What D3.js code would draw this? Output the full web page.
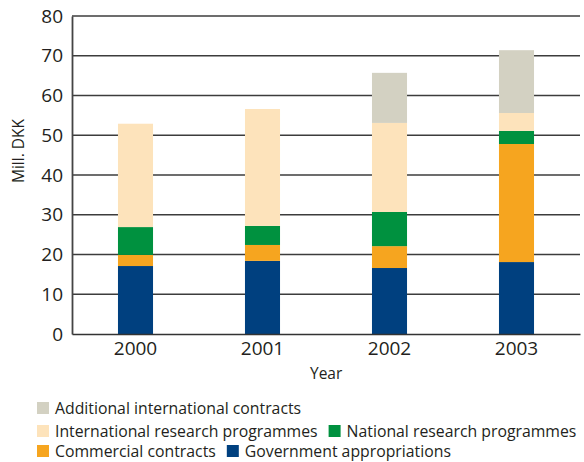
<!DOCTYPE html>
<html>
<head>
<meta charset="utf-8">
<script src="https://cdn.jsdelivr.net/npm/d3@7"></script>
<style>
  body { margin: 0; background: #fff; }
  svg { display: block; }
  text { font-family: "Open Sans", sans-serif; fill: #231f20; }
</style>
</head>
<body>
<svg id="chart" width="584" height="462"></svg>
<script>
// Funding by source, million DKK
const years = ["2000", "2001", "2002", "2003"];
const government = [17.1, 18.4, 16.6, 18.1];
const commercial = [2.8, 4.0, 5.5, 29.7];
const national = [7.0, 4.8, 8.6, 3.3];
const international = [26.0, 29.4, 22.4, 4.5];
const additional = [0, 0, 12.6, 15.8];
const yTicks = [0, 10, 20, 30, 40, 50, 60, 70, 80];

const series = [
  { key: "government", label: "Government appropriations", color: "#00407f", values: government },
  { key: "commercial", label: "Commercial contracts", color: "#f6a51f", values: commercial },
  { key: "national", label: "National research programmes", color: "#00913f", values: national },
  { key: "international", label: "International research programmes", color: "#fde3bb", values: international },
  { key: "additional", label: "Additional international contracts", color: "#d3d1c2", values: additional }
];

const rows = years.map((yr, i) => {
  const r = { year: yr };
  series.forEach(s => r[s.key] = s.values[i]);
  return r;
});

const svg = d3.select("#chart");
const plotLeft = 72, plotRight = 580, plotTop = 16, plotBottom = 334;

const x = d3.scaleBand().domain(years).range([plotLeft, plotRight])
  .paddingInner(0.724).paddingOuter(0.362);
const y = d3.scaleLinear().domain([0, 80]).range([plotBottom, plotTop]);

// horizontal grid
svg.append("g")
  .selectAll("line")
  .data(yTicks.filter(t => t > 0))
  .join("line")
  .attr("x1", plotLeft).attr("x2", plotRight)
  .attr("y1", d => y(d)).attr("y2", d => y(d))
  .attr("stroke", "#3c3c3c").attr("stroke-width", 1.4);

// stacked bars
const stack = d3.stack().keys(series.map(s => s.key))(rows);
const colorOf = d3.scaleOrdinal().domain(series.map(s => s.key)).range(series.map(s => s.color));

svg.append("g")
  .selectAll("g")
  .data(stack)
  .join("g")
  .attr("fill", d => colorOf(d.key))
  .selectAll("rect")
  .data(d => d)
  .join("rect")
  .attr("x", d => x(d.data.year))
  .attr("width", x.bandwidth())
  .attr("y", d => y(d[1]))
  .attr("height", d => y(d[0]) - y(d[1]));

// y axis
const yAxis = svg.append("g")
  .attr("transform", `translate(${plotLeft},0)`)
  .call(d3.axisLeft(y).tickValues(yTicks).tickSize(0).tickPadding(9));
yAxis.select(".domain").attr("stroke", "#444").attr("stroke-width", 1.8);
yAxis.selectAll("text").attr("font-size", 19).attr("font-family", "Open Sans").attr("fill", "#231f20");

// x axis
const xAxis = svg.append("g")
  .attr("transform", `translate(0,${plotBottom})`)
  .call(d3.axisBottom(x).tickSize(0).tickPadding(8));
xAxis.select(".domain").attr("stroke", "#333").attr("stroke-width", 1.6);
xAxis.selectAll("text").attr("font-size", 19).attr("font-family", "Open Sans").attr("fill", "#231f20");

// axis titles
svg.append("text")
  .attr("x", 310).attr("y", 379)
  .attr("font-size", 15.5)
  .text("Year");

svg.append("text")
  .attr("transform", "translate(24,151) rotate(-90)")
  .attr("text-anchor", "middle")
  .attr("font-size", 15.5)
  .text("Mill. DKK");

// legend
const legendRows = [
  ["additional"],
  ["international", "national"],
  ["commercial", "government"]
];
const rowY = [408, 431, 451];
const legend = svg.append("g");
legendRows.forEach((keys, ri) => {
  let cx = 37;
  const cy = rowY[ri];
  keys.forEach(k => {
    const s = series.find(d => d.key === k);
    legend.append("rect")
      .attr("x", cx).attr("y", cy - 6)
      .attr("width", 12).attr("height", 12)
      .attr("fill", s.color);
    const t = legend.append("text")
      .attr("x", cx + 18).attr("y", cy)
      .attr("dy", "0.36em")
      .attr("font-size", 15.8)
      .text(s.label);
    cx = cx + 18 + t.node().getComputedTextLength() + 11;
  });
});
</script>
</body>
</html>
